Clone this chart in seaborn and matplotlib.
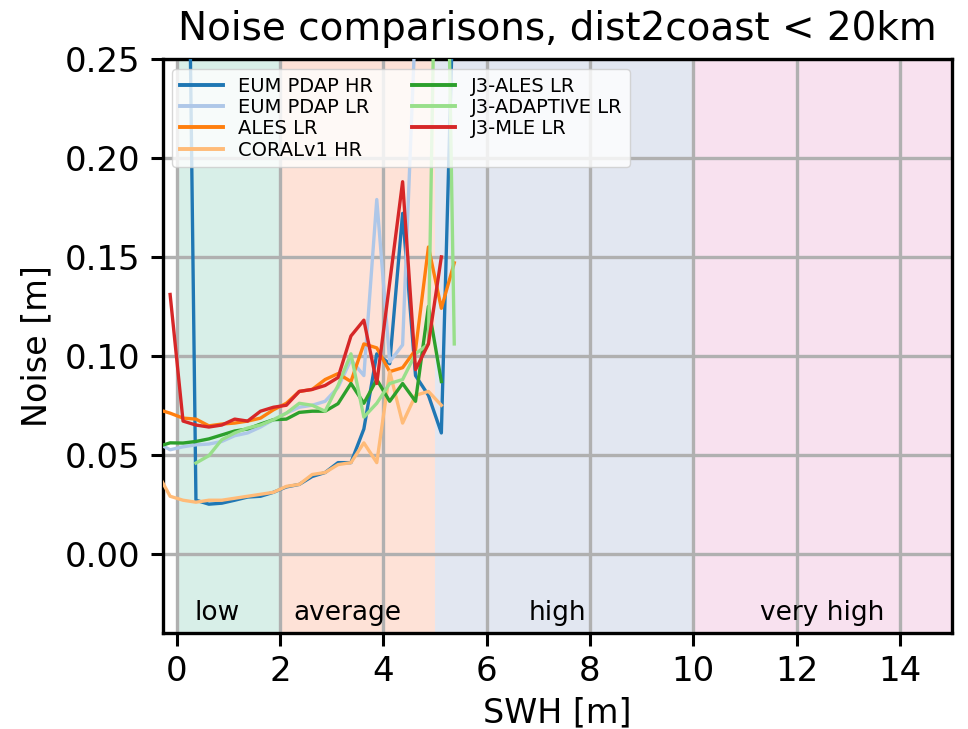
import numpy as np
import pandas as pd
import matplotlib
matplotlib.use("Agg")
import matplotlib.pyplot as plt
import seaborn as sns

nan = np.nan

swh = [-0.375, -0.125, 0.125, 0.375, 0.625, 0.875, 1.125, 1.375, 1.625, 1.875,
       2.125, 2.375, 2.625, 2.875, 3.125, 3.375, 3.625, 3.875, 4.125, 4.375,
       4.625, 4.875, 5.125, 5.375]

eum_pdap_hr = [nan, 0.60, 0.55, 0.027, 0.025, 0.0255, 0.027, 0.0286, 0.029, 0.031,
               0.0337, 0.035, 0.039, 0.041, 0.046, 0.046, 0.063, 0.101, 0.096, 0.172,
               0.090, 0.080, 0.061, 0.30]
eum_pdap_lr = [0.056, 0.0525, 0.054, 0.055, 0.0554, 0.0567, 0.0596, 0.061, 0.064, 0.0677,
               0.071, 0.074, 0.075, 0.077, 0.084, 0.098, 0.090, 0.179, 0.097, 0.1055,
               0.27, 0.50, nan, nan]
ales_lr = [0.073, 0.071, 0.0685, 0.068, 0.0646, 0.0655, 0.066, 0.067, 0.0685, 0.0727,
           0.076, 0.082, 0.083, 0.088, 0.091, 0.087, 0.106, 0.104, 0.092, 0.094,
           0.103, 0.155, 0.124, 0.147]
coral_hr = [0.041, 0.029, 0.027, 0.026, 0.027, 0.027, 0.028, 0.029, 0.030, 0.031,
            0.034, 0.035, 0.040, 0.041, 0.045, 0.046, 0.056, 0.046, 0.092, 0.066,
            0.080, 0.082, 0.075, nan]
j3_ales_lr = [0.054, 0.056, 0.0559, 0.0567, 0.058, 0.060, 0.062, 0.063, 0.0655, 0.0677,
              0.068, 0.0714, 0.072, 0.072, 0.0758, 0.086, 0.076, 0.088, 0.077, 0.086,
              0.077, 0.125, 0.087, nan]
j3_adaptive_lr = [nan, nan, nan, 0.0458, 0.0495, 0.0576, 0.061, 0.0635, 0.065, 0.0677,
                  0.071, 0.076, 0.075, 0.072, 0.085, 0.101, 0.069, 0.076, 0.086, 0.088,
                  0.101, 0.106, 0.50, 0.106]
j3_mle_lr = [nan, 0.131, 0.067, 0.065, 0.064, 0.065, 0.068, 0.067, 0.072, 0.074,
             0.075, 0.082, 0.083, 0.085, 0.089, 0.110, 0.118, 0.086, 0.137, 0.188,
             0.093, 0.106, 0.150, nan]

products = ["EUM PDAP HR", "EUM PDAP LR", "ALES LR", "CORALv1 HR",
            "J3-ALES LR", "J3-ADAPTIVE LR", "J3-MLE LR"]
series = [eum_pdap_hr, eum_pdap_lr, ales_lr, coral_hr,
          j3_ales_lr, j3_adaptive_lr, j3_mle_lr]
colors = ["#1f77b4", "#aec7e8", "#ff7f0e", "#ffbb78", "#2ca02c", "#98df8a", "#d62728"]

region_names = ["low", "average", "high", "very high"]
region_edges = [0, 2, 5, 10, 15]

rows = []
for name, vals in zip(products, series):
    for x, v in zip(swh, vals):
        rows.append({"SWH": x, "noise": v, "product": name})
df = pd.DataFrame(rows)

fig = plt.figure(figsize=(9.68, 7.29), dpi=100)
ax = fig.add_axes([0.168, 0.132, 0.815, 0.787])

span_cols = sns.color_palette("Set2", 4)
for i in range(4):
    ax.axvspan(region_edges[i], region_edges[i + 1], color=span_cols[i], alpha=0.25,
               lw=0, zorder=0)

for name, col in zip(products, colors):
    sub = df[df["product"] == name]
    sns.lineplot(data=sub, x="SWH", y="noise", color=col, linewidth=2.4, ax=ax,
                 label=name, estimator=None, sort=False, zorder=3)

ax.set_xlim(-0.27, 15)
ax.set_ylim(-0.04, 0.25)
ax.set_xticks(np.arange(0, 15, 2))
ax.set_yticks(np.arange(0, 0.26, 0.05))
ax.set_yticklabels([f"{v:.2f}" for v in np.arange(0, 0.26, 0.05)])
ax.set_axisbelow(True)
ax.grid(True, color="#b0b0b0", linewidth=2.4, zorder=0.5)
for s in ax.spines.values():
    s.set_linewidth(2.4)
ax.tick_params(labelsize=24.5, width=2.2, length=9, pad=7)

label_x = [0.78, 3.3, 7.37, 12.5]
for nm, lx in zip(region_names, label_x):
    ax.text(lx, -0.030, nm, ha="center", va="center", fontsize=19)

ax.set_xlabel("SWH [m]", fontsize=24, labelpad=6)
ax.set_ylabel("Noise [m]", fontsize=24, labelpad=8)
ax.set_title("Noise comparisons, dist2coast < 20km", fontsize=28, pad=14)

leg = ax.legend(loc="upper left", ncol=2, fontsize=14, labelspacing=0.12,
                columnspacing=2.0, handlelength=2.2)
for h in leg.get_lines():
    h.set_linewidth(2.8)

fig.savefig("out.png", dpi=100)
